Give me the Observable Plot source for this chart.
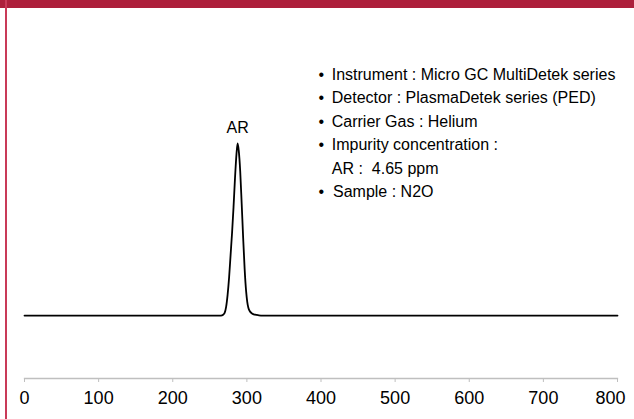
<!DOCTYPE html>
<html>
<head>
<meta charset="utf-8">
<script src="https://cdn.jsdelivr.net/npm/d3@7"></script>
<script src="https://cdn.jsdelivr.net/npm/@observablehq/plot@0.6"></script>
<style>
  html, body { margin: 0; padding: 0; background: #fff; }
  #wrap { position: relative; width: 634px; height: 419px; overflow: hidden; font-family: "Liberation Sans", Arial, sans-serif; }
  #titlebar { position: absolute; left: 0; top: 0; width: 634px; height: 7.5px; background: #ad1f3b; overflow: hidden; z-index: 2; }
  #titlebar span { position: absolute; left: 0; width: 628px; text-align: center; top: -16px; color: #fff; font-weight: bold; font-size: 19px; letter-spacing: 0.5px; line-height: 19px; }
  #leftline { position: absolute; left: 5px; top: 0; width: 1.5px; height: 419px; background: #c93a58; z-index: 2; }
  #chart { position: absolute; left: 0; top: 0; }
</style>
</head>
<body>
<div id="wrap">
  <div id="titlebar"><span>CHROMATOGRAM #258</span></div>
  <div id="leftline"></div>
  <div id="chart"></div>
</div>
<script>
// Retention time (s) and detector signal (relative units, peak = 100)
const time = [0, 100, 200, 265, 268, 270, 272, 274, 276, 278, 280, 282, 284, 286, 287.5, 289, 291, 293, 295, 297, 299, 300.5, 302, 304, 307, 311, 316, 322, 400, 500, 600, 700, 800];
const signal = [0, 0, 0, 0, 0.5, 1.5, 5, 12, 22, 35, 48, 63, 80, 94, 100, 96, 84, 65, 45, 27, 14, 8, 4.5, 2.5, 1.2, 0.5, 0.15, 0, 0, 0, 0, 0, 0];
const xTicks = [0, 100, 200, 300, 400, 500, 600, 700, 800];
const peakNames = ["AR"];
const peakTimes = [287.5];
const peakHeights = [100];
const infoLines = [
  "\u2022 \u2009Instrument : Micro GC MultiDetek series",
  "\u2022 \u2009Detector : PlasmaDetek series (PED)",
  "\u2022 \u2009Carrier Gas : Helium",
  "\u2022 \u2009Impurity concentration :",
  "\u00a0\u00a0\u00a0AR :  4.65 ppm",
  "\u2022\u00a0\u00a0Sample : N2O"
];

const series = time.map((t, i) => ({t, v: signal[i]}));
const peaks = peakNames.map((n, i) => ({name: n, t: peakTimes[i], v: peakHeights[i]}));
const lastTick = xTicks[xTicks.length - 1];

const chart = Plot.plot({
  width: 634,
  height: 419,
  marginLeft: 24,
  marginRight: 17,
  marginTop: 20,
  marginBottom: 41,
  style: {fontFamily: "'Liberation Sans', Arial, sans-serif", background: "transparent", overflow: "visible"},
  x: {domain: [0, 800], label: null},
  y: {domain: [-36.6, 171.5], axis: null},
  marks: [
    Plot.axisX({ticks: xTicks, tickSize: 4, text: null, stroke: "#bfbfbf", label: null}),
    Plot.axisX({ticks: xTicks.filter(t => t !== lastTick), tickSize: 0, tickPadding: 13, fill: "#000", fontSize: 18, label: null, tickFormat: d => String(d)}),
    Plot.axisX({ticks: [lastTick], tickSize: 0, tickPadding: 13, dx: -7, fill: "#000", fontSize: 18, label: null, tickFormat: d => String(d)}),
    Plot.frame({anchor: "bottom", stroke: "#bfbfbf", strokeWidth: 1.3}),
    Plot.line(series, {x: "t", y: "v", stroke: "#000", strokeWidth: 1.8, curve: "monotone-x"}),
    Plot.text(peaks, {x: "t", y: "v", text: "name", dy: -16, fontSize: 16, fill: "#000"}),
    Plot.text([infoLines.join("\n")], {frameAnchor: "top-left", dx: 294, dy: 43, textAnchor: "start", lineAnchor: "top", fontSize: 16, lineHeight: 1.46, fill: "#000"})
  ]
});
document.getElementById("chart").appendChild(chart);
</script>
</body>
</html>
